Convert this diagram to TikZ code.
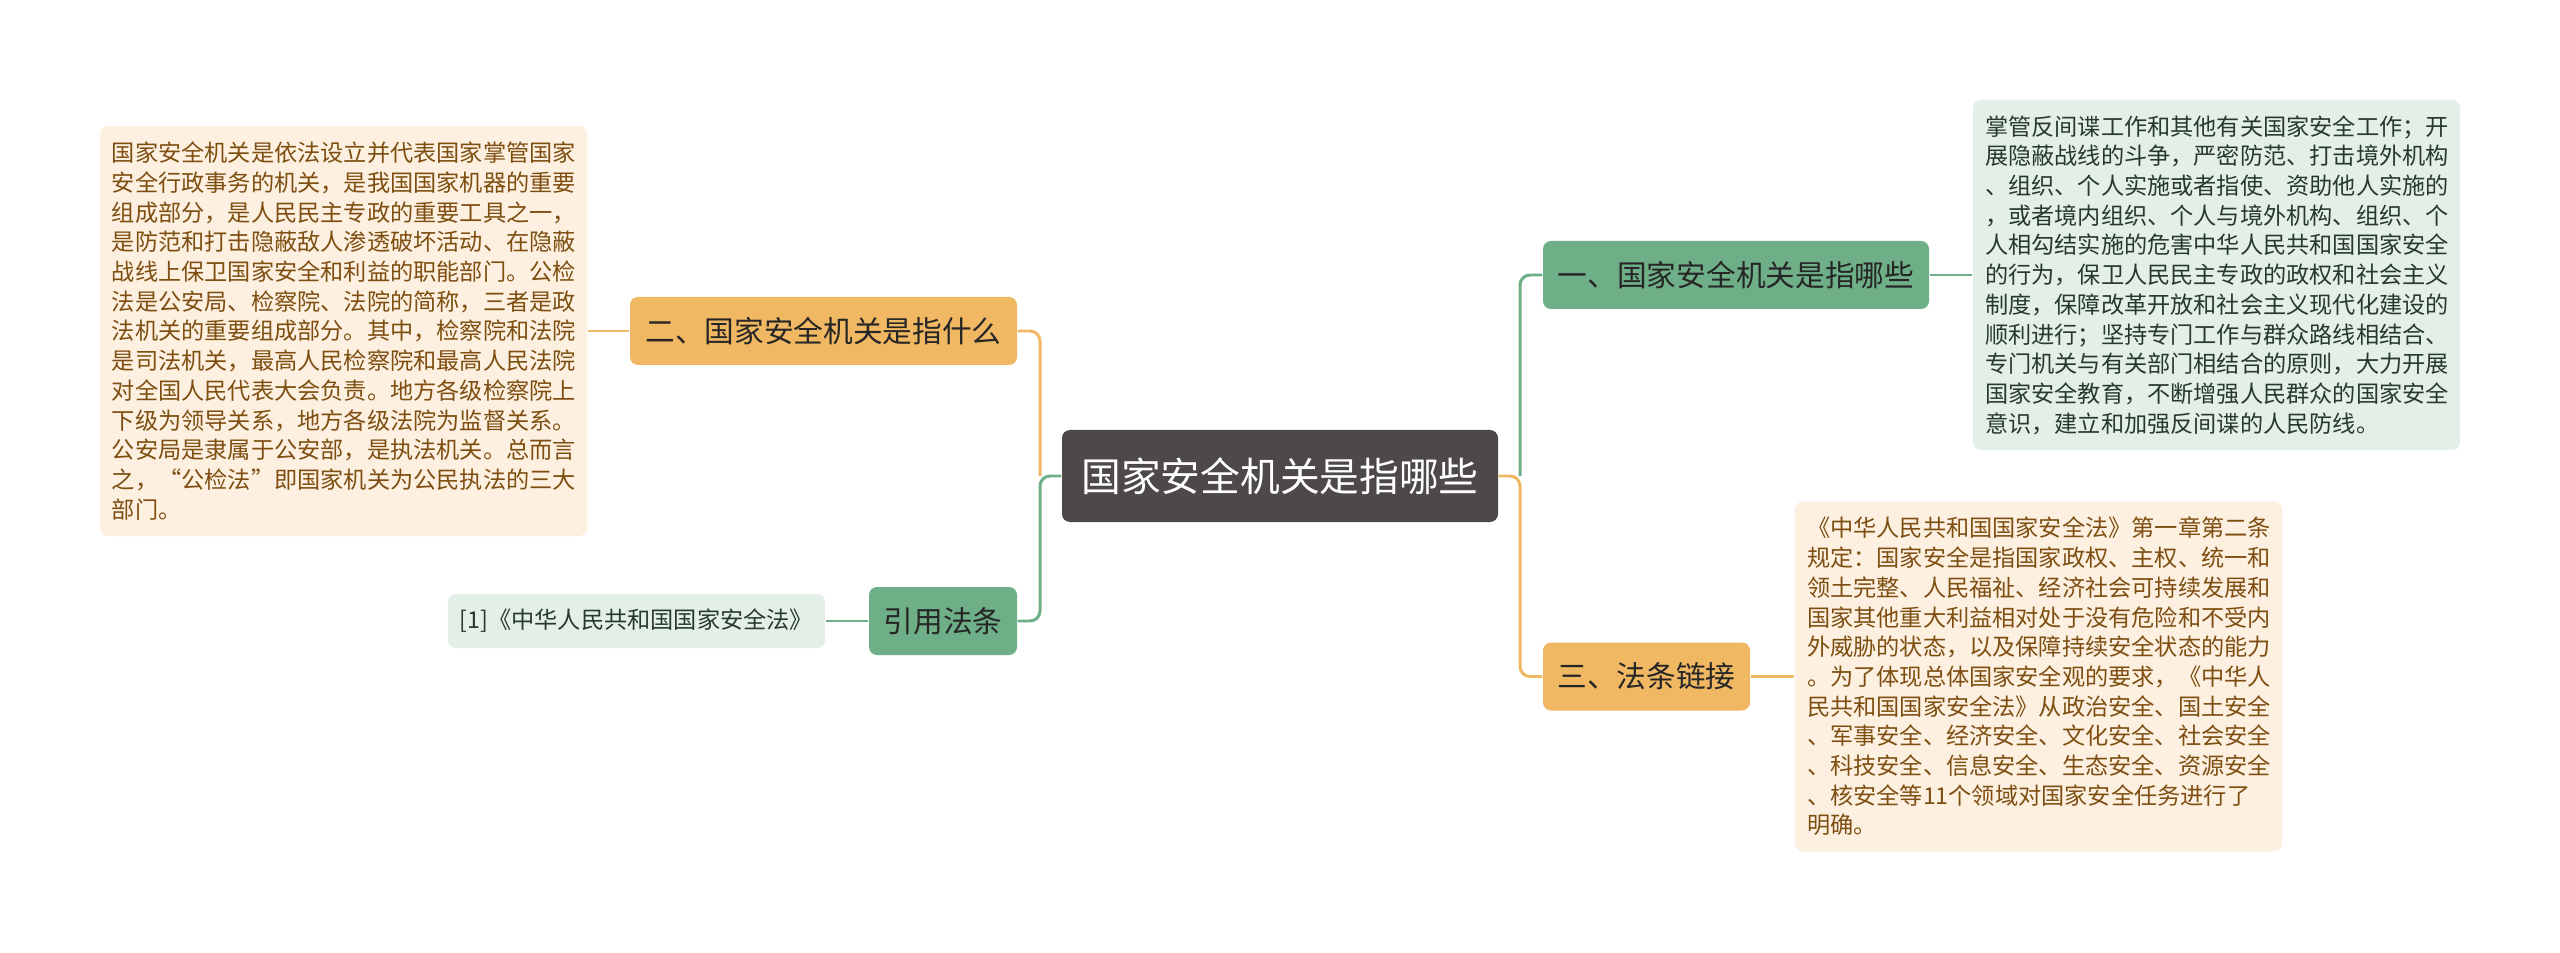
\documentclass[tikz,border=0pt]{standalone}
\usepackage{fontspec}
\newfontfamily\cjk{Noto Sans CJK SC}
\usepackage{tikz}
\usetikzlibrary{positioning}
\usepackage{xcolor}
\definecolor{rootfill}{RGB}{78,73,73}
\definecolor{orgfill}{RGB}{240,184,98}
\definecolor{grnfill}{RGB}{110,175,135}
\definecolor{orgleaf}{RGB}{253,240,225}
\definecolor{grnleaf}{RGB}{228,239,231}
\definecolor{orgtext}{RGB}{125,78,16}
\definecolor{grntext}{RGB}{38,58,44}

\begin{document}
\begin{tikzpicture}[
    rootbox/.style={rounded corners=0.08cm,fill=rootfill,text=white,minimum width=4.36cm,minimum height=0.92cm,inner sep=0pt,font=\cjk\fontsize{11.3}{13}\selectfont},
    branchbox/.style={rounded corners=0.08cm,minimum height=0.68cm,inner sep=0pt,text=black!85,font=\cjk\fontsize{8.45}{10}\selectfont},
    orgbranch/.style={branchbox,fill=orgfill},
    grnbranch/.style={branchbox,fill=grnfill},
    leafbox/.style={rounded corners=0.08cm,inner xsep=0.12cm,inner ysep=0pt,align=left,font=\cjk\fontsize{6.6}{8.45}\selectfont},
    orgleafbox/.style={leafbox,fill=orgleaf,text=orgtext},
    grnleafbox/.style={leafbox,fill=grnleaf,text=grntext},
    orgline/.style={draw=orgfill,line width=0.85pt,rounded corners=0.1cm},
    grnline/.style={draw=grnfill,line width=0.85pt,rounded corners=0.1cm}
]
    \fill[white] (0,0) rectangle (25.6,9.52);
    \useasboundingbox (0,0) rectangle (25.6,9.52);

    \node[rootbox] (root) at (12.80,4.76) {国家安全机关是指哪些};

    \node[orgbranch,minimum width=3.87cm] (b2) at (8.235,6.21) {二、国家安全机关是指什么};
    \node[grnbranch,minimum width=1.48cm] (b4) at (9.43,3.31) {引用法条};
    \node[grnbranch,minimum width=3.86cm] (b1) at (17.36,6.77) {一、国家安全机关是指哪些};
    \node[orgbranch,minimum width=2.07cm] (b3) at (16.465,2.755) {三、法条链接};

    \node[orgleafbox,text width=4.63cm,minimum height=4.10cm] (l2) at (3.435,6.21) {国家安全机关是依法设立并代表国家掌管国家\\安全行政事务的机关，是我国国家机器的重要\\组成部分，是人民民主专政的重要工具之一，\\是防范和打击隐蔽敌人渗透破坏活动、在隐蔽\\战线上保卫国家安全和利益的职能部门。公检\\法是公安局、检察院、法院的简称，三者是政\\法机关的重要组成部分。其中，检察院和法院\\是司法机关，最高人民检察院和最高人民法院\\对全国人民代表大会负责。地方各级检察院上\\下级为领导关系，地方各级法院为监督关系。\\公安局是隶属于公安部，是执法机关。总而言\\之，“公检法”即国家机关为公民执法的三大\\部门。};
    \node[grnleafbox,align=center,minimum width=3.75cm,minimum height=0.54cm] (l4) at (6.365,3.31) {[1]《中华人民共和国国家安全法》};
    \node[grnleafbox,text width=4.63cm,minimum height=3.50cm] (l1) at (22.165,6.77) {掌管反间谍工作和其他有关国家安全工作；开\\展隐蔽战线的斗争，严密防范、打击境外机构\\、组织、个人实施或者指使、资助他人实施的\\，或者境内组织、个人与境外机构、组织、个\\人相勾结实施的危害中华人民共和国国家安全\\的行为，保卫人民民主专政的政权和社会主义\\制度，保障改革开放和社会主义现代化建设的\\顺利进行；坚持专门工作与群众路线相结合、\\专门机关与有关部门相结合的原则，大力开展\\国家安全教育，不断增强人民群众的国家安全\\意识，建立和加强反间谍的人民防线。};
    \node[orgleafbox,text width=4.63cm,minimum height=3.50cm] (l3) at (20.385,2.755) {《中华人民共和国国家安全法》第一章第二条\\规定：国家安全是指国家政权、主权、统一和\\领土完整、人民福祉、经济社会可持续发展和\\国家其他重大利益相对处于没有危险和不受内\\外威胁的状态，以及保障持续安全状态的能力\\。为了体现总体国家安全观的要求，《中华人\\民共和国国家安全法》从政治安全、国土安全\\、军事安全、经济安全、文化安全、社会安全\\、科技安全、信息安全、生态安全、资源安全\\、核安全等11个领域对国家安全任务进行了\\明确。};

    \coordinate (jl) at (10.40,4.76);
    \coordinate (jr) at (15.20,4.76);

    \draw[orgline] (b2.east) -| (jl);
    \draw[grnline] (root.west) -- (jl) |- (b4.east);
    \draw[orgline] (root.east) -- (jr) |- (b3.west);
    \draw[grnline] (jr) |- (b1.west);

    \draw[orgline] (l2.east) -- (b2.west);
    \draw[grnline] (l4.east) -- (b4.west);
    \draw[grnline] (b1.east) -- (l1.west);
    \draw[orgline] (b3.east) -- (l3.west);
\end{tikzpicture}
\end{document}
